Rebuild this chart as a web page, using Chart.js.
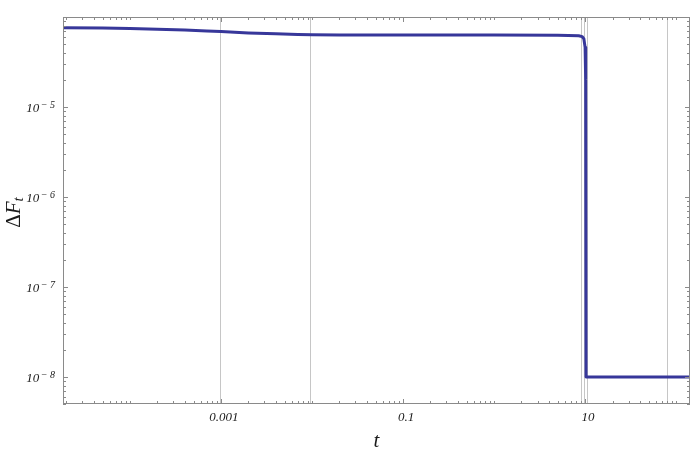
<!DOCTYPE html>
<html>
<head>
<meta charset="utf-8">
<script src="https://cdn.jsdelivr.net/npm/chart.js@4.4.1/dist/chart.umd.min.js"></script>
<style>
  html, body { margin: 0; padding: 0; background: #fff; }
  canvas { display: block; }
</style>
</head>
<body>
<canvas id="chart" width="695" height="453"></canvas>
<script>
// curve: t on a log axis, ΔF_t on a log axis
const tValues = [1.84e-5, 5e-5, 1e-4, 2e-4, 4e-4, 7e-4, 1e-3, 2e-3, 4e-3, 7e-3, 1e-2, 2e-2, 5e-2, 0.1, 1, 5, 8.5, 9.3, 9.7, 10.0, 10.15, 10.25, 142]
const deltaF = [7.6e-5, 7.55e-5, 7.45e-5, 7.3e-5, 7.15e-5, 7.0e-5, 6.9e-5, 6.65e-5, 6.5e-5, 6.4e-5, 6.35e-5, 6.32e-5, 6.3e-5, 6.3e-5, 6.3e-5, 6.28e-5, 6.2e-5, 6.05e-5, 5.7e-5, 4.6e-5, 2e-5, 1e-8, 1e-8]

const xRange = [1.84e-5, 142]
const yRange = [5e-9, 1e-4]
const xTickLabels = [0.001, 0.1, 10]
const yTickLabels = [1e-5, 1e-6, 1e-7, 1e-8]
// vertical grid lines (marked times)
const gridLinesT = [0.00098, 0.0095, 9.04, 9.75, 10.6, 80]

const lineColor = '#37379a'
const frameColor = '#8a8a8a'
const gridColor = '#c6c6c6'
const serif = '"Liberation Serif", "DejaVu Serif", serif'

// n * 10^k values inside a range, for minor ticks
function logTicks(min, max) {
  const out = []
  for (let k = Math.floor(Math.log10(min)); k <= Math.ceil(Math.log10(max)); k++) {
    for (let n = 1; n <= 9; n++) {
      const v = n * Math.pow(10, k)
      if (v >= min * 0.999 && v <= max * 1.001) out.push({ v, major: n === 1 })
    }
  }
  return out
}

const frameAndTicks = {
  id: 'frameAndTicks',
  beforeDatasetsDraw(chart) {
    const { ctx, chartArea: a, scales: { x } } = chart
    ctx.save()
    ctx.strokeStyle = gridColor
    ctx.lineWidth = 1
    gridLinesT.forEach(t => {
      const px = Math.round(x.getPixelForValue(t)) + 0.5
      ctx.beginPath()
      ctx.moveTo(px, a.top)
      ctx.lineTo(px, a.bottom)
      ctx.stroke()
    })
    ctx.restore()
  },
  afterDraw(chart) {
    const { ctx, chartArea: a, scales: { x, y } } = chart
    ctx.save()
    ctx.strokeStyle = frameColor
    ctx.lineWidth = 1
    ctx.strokeRect(a.left + 0.5, a.top + 0.5, a.right - a.left - 1, a.bottom - a.top - 1)

    // inward ticks on all four sides
    ctx.beginPath()
    logTicks(xRange[0], xRange[1]).forEach(({ v }) => {
      const px = Math.round(x.getPixelForValue(v)) + 0.5
      const len = xTickLabels.some(l => Math.abs(l - v) / l < 1e-6) ? 5 : 3
      ctx.moveTo(px, a.bottom); ctx.lineTo(px, a.bottom - len)
      ctx.moveTo(px, a.top); ctx.lineTo(px, a.top + len)
    })
    logTicks(yRange[0], yRange[1]).forEach(({ v, major }) => {
      const py = Math.round(y.getPixelForValue(v)) + 0.5
      const len = major ? 5 : 3
      ctx.moveTo(a.left, py); ctx.lineTo(a.left + len, py)
      ctx.moveTo(a.right, py); ctx.lineTo(a.right - len, py)
    })
    ctx.stroke()

    ctx.fillStyle = '#1a1a1a'
    // x tick labels
    ctx.font = 'italic 13px ' + serif
    ctx.textAlign = 'center'
    ctx.textBaseline = 'middle'
    xTickLabels.forEach(v => {
      ctx.fillText(String(v), x.getPixelForValue(v) + 3, a.bottom + 14)
    })

    // y tick labels 10^-n
    yTickLabels.forEach(v => {
      const py = y.getPixelForValue(v)
      const exp = '\u2212 ' + Math.round(-Math.log10(v))
      ctx.font = 'italic 10px ' + serif
      ctx.textAlign = 'right'
      const ew = ctx.measureText(exp).width
      const right = a.left - 8
      ctx.fillText(exp, right, py - 2)
      ctx.font = 'italic 13px ' + serif
      ctx.fillText('10', right - ew - 1.5, py + 2)
    })

    // axis titles
    ctx.font = 'italic 21px ' + serif
    ctx.textAlign = 'center'
    ctx.fillText('t', (a.left + a.right) / 2, a.bottom + 37)

    ctx.translate(14, (a.top + a.bottom) / 2 + 2)
    ctx.rotate(-Math.PI / 2)
    ctx.textAlign = 'left'
    ctx.font = '21px ' + serif
    const dW = ctx.measureText('\u0394').width
    ctx.font = 'italic 21px ' + serif
    const fW = ctx.measureText('F').width
    ctx.font = 'italic 15px ' + serif
    const tW = ctx.measureText('t').width
    const start = -(dW + fW + tW) / 2
    ctx.font = '21px ' + serif
    ctx.fillText('\u0394', start, 0)
    ctx.font = 'italic 21px ' + serif
    ctx.fillText('F', start + dW, 0)
    ctx.font = 'italic 15px ' + serif
    ctx.fillText('t', start + dW + fW, 5)
    ctx.restore()
  }
}

new Chart(document.getElementById('chart'), {
  type: 'scatter',
  data: {
    datasets: [{
      data: tValues.map((t, i) => ({ x: t, y: deltaF[i] })),
      showLine: true,
      borderColor: lineColor,
      borderWidth: 3,
      borderJoinStyle: 'round',
      pointRadius: 0,
      tension: 0,
    }]
  },
  options: {
    responsive: false,
    animation: false,
    devicePixelRatio: 1,
    layout: { padding: { left: 63, right: 5, top: 17, bottom: 49 } },
    scales: {
      x: { type: 'logarithmic', min: xRange[0], max: xRange[1], display: false },
      y: { type: 'logarithmic', min: yRange[0], max: yRange[1], display: false },
    },
    plugins: {
      legend: { display: false },
      tooltip: { enabled: false },
    }
  },
  plugins: [frameAndTicks]
})
</script>
</body>
</html>
